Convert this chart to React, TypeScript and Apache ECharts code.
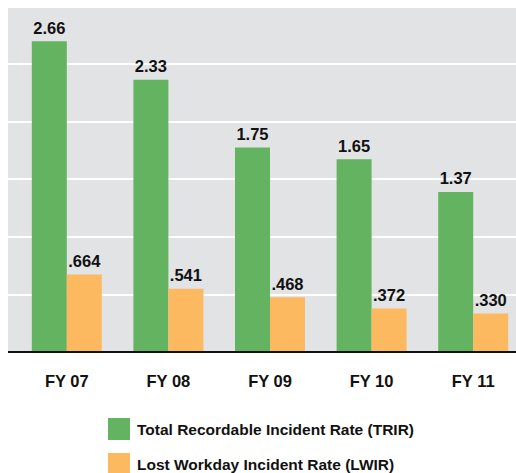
import React, { useEffect, useRef } from "react";
import * as echarts from "echarts";

const categories = ["FY 07", "FY 08", "FY 09", "FY 10", "FY 11"];
const trirValues = [2.66, 2.33, 1.75, 1.65, 1.37];
const lwirValues = [0.664, 0.541, 0.468, 0.372, 0.33];
const trirLabels = ["2.66", "2.33", "1.75", "1.65", "1.37"];
const lwirLabels = [".664", ".541", ".468", ".372", ".330"];
const seriesNames = ["Total Recordable Incident Rate (TRIR)", "Lost Workday Incident Rate (LWIR)"];

const GREEN = "#64b360";
const ORANGE = "#fdb960";
const GRAY = "#e2e3e5";
const FONT = "Liberation Sans";
const Y_MAX = 2.945;
const GRID_MAX = 2.986;

export default function App() {
  const ref = useRef<HTMLDivElement>(null);
  useEffect(() => {
    if (!ref.current) return;
    const chart = echarts.init(ref.current, undefined, { renderer: "svg" });
    const labelStyle = {
      show: true,
      position: "top",
      distance: 5,
      fontFamily: FONT,
      fontWeight: "bold",
      fontSize: 16.5,
      color: "#111",
    };
    const legendCommon = {
      orient: "vertical",
      left: 108,
      itemWidth: 22,
      itemHeight: 22,
      icon: "rect",
      padding: 0,
      textStyle: { fontFamily: FONT, fontWeight: "bold", fontSize: 15.5, color: "#111", padding: [0, 0, 0, 2] },
    };
    chart.setOption({
      animation: false,
      backgroundColor: "#fff",
      grid: [
        { left: 8, right: 0, top: 8, bottom: 121, show: true, backgroundColor: GRAY, borderWidth: 0, outerBoundsMode: "none", containLabel: false },
        { left: 16, width: 508, top: 8, bottom: 121, outerBoundsMode: "none", containLabel: false },
      ],
      xAxis: [
        { type: "category", gridIndex: 0, data: categories, show: false },
        {
          type: "category",
          gridIndex: 1,
          data: categories,
          axisLine: { show: false },
          axisTick: { show: false },
          axisLabel: {
            margin: 20,
            fontFamily: FONT,
            fontWeight: "bold",
            fontSize: 16.5,
            color: "#111",
          },
        },
      ],
      yAxis: [
        {
          type: "value",
          gridIndex: 0,
          min: 0,
          max: GRID_MAX,
          interval: 0.5,
          axisLine: { show: false },
          axisTick: { show: false },
          axisLabel: { show: false },
          splitLine: { show: true, showMaxLine: false, lineStyle: { color: "#ffffff", width: 2 } },
        },
        {
          type: "value",
          gridIndex: 1,
          min: 0,
          max: Y_MAX,
          show: false,
          splitLine: { show: false },
        },
      ],
      legend: [
        { ...legendCommon, top: 418, data: [seriesNames[0]] },
        { ...legendCommon, top: 453, data: [seriesNames[1]] },
      ],
      series: [
        {
          name: seriesNames[0],
          type: "bar",
          xAxisIndex: 1,
          yAxisIndex: 1,
          data: trirValues,
          barWidth: 35,
          barGap: "0%",
          itemStyle: { color: GREEN },
          label: { ...labelStyle, formatter: (p: any) => trirLabels[p.dataIndex] },
        },
        {
          name: seriesNames[1],
          type: "bar",
          xAxisIndex: 1,
          yAxisIndex: 1,
          data: lwirValues,
          barWidth: 35,
          barGap: "0%",
          itemStyle: { color: ORANGE },
          label: { ...labelStyle, formatter: (p: any) => lwirLabels[p.dataIndex] },
        },
      ],
      graphic: [
        {
          type: "line",
          shape: { x1: 8, y1: 352, x2: 516, y2: 352 },
          style: { stroke: "#111", lineWidth: 2 },
          z: 10,
        },
      ],
    });
    return () => chart.dispose();
  }, []);
  return <div ref={ref} style={{ width: 516, height: 473, position: "absolute", left: 0, top: 0 }} />;
}
